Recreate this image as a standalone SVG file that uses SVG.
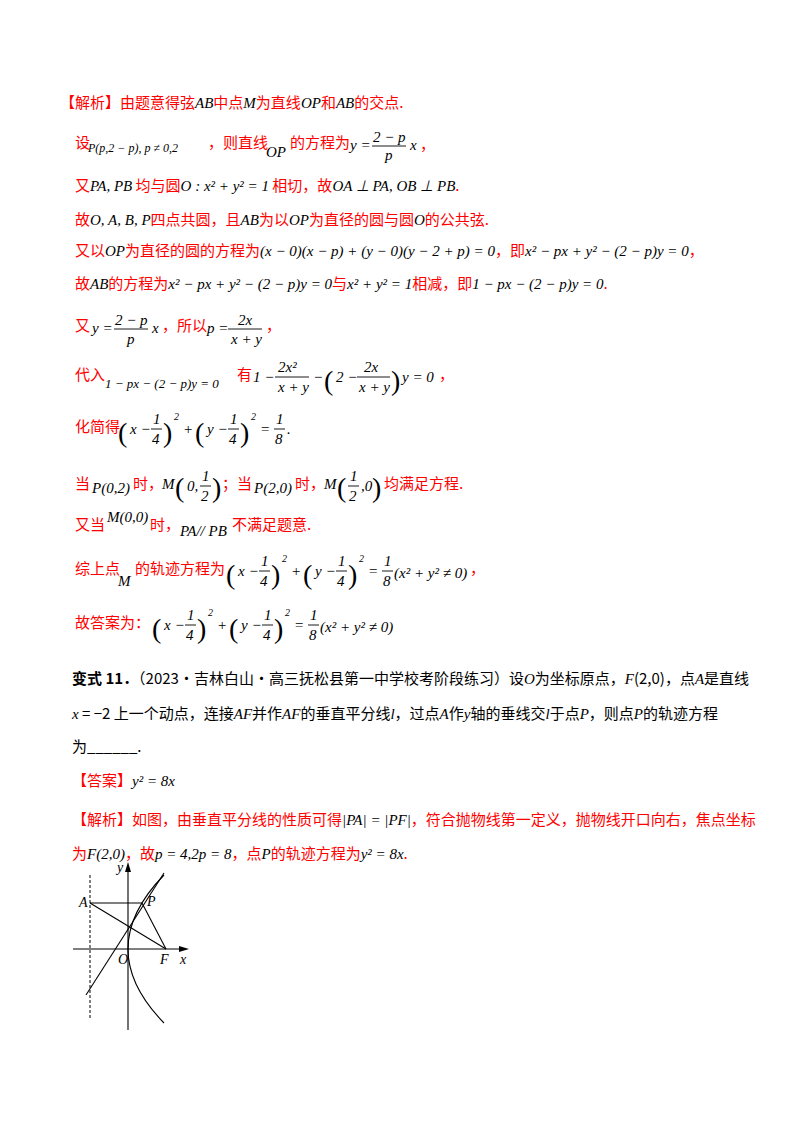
<svg xmlns="http://www.w3.org/2000/svg" width="800" height="1132" viewBox="0 0 800 1132">
<style>
.r{font-family:"Noto Sans CJK SC","Liberation Serif",serif;font-size:15px;fill:#f00}
.k{font-family:"Noto Sans CJK SC","Liberation Serif",serif;font-size:15px;fill:#000}
.b{font-weight:bold}
.m{font-family:"Liberation Serif",serif;font-size:15px;font-style:italic;fill:#000}
.s{font-size:10px}
.big{font-family:"Liberation Serif",serif;font-size:28px;fill:#000}
.fl{stroke:#000;stroke-width:0.9}
.g{stroke:#000;stroke-width:1.1;fill:none}
.lab{font-family:"Liberation Serif",serif;font-size:14px;font-style:italic;fill:#000}
</style>
<rect width="800" height="1132" fill="#fff"/>
<g id="solution1">
<text x="60" y="108" class="r">【解析】由题意得弦<tspan class="m">AB</tspan>中点<tspan class="m">M</tspan>为直线<tspan class="m">OP</tspan>和<tspan class="m">AB</tspan>的交点.</text>
<text x="75" y="148" class="r">设</text>
<text x="88" y="152" class="m" style="font-size:12px">P(p,2 − p), p ≠ 0,2</text>
<text x="208" y="148" class="r">，则直线</text>
<text x="266" y="157" class="m">OP</text>
<text x="290" y="148" class="r">的方程为</text>
<text x="350" y="150" class="m">y =</text>
<text x="373" y="142" class="m">2 − p</text><line x1="372" y1="146" x2="406" y2="146" class="fl"/><text x="385" y="160" class="m">p</text>
<text x="410" y="150" class="m">x</text><text x="420" y="150" class="r">，</text>
<text x="75" y="191" class="r">又<tspan class="m">PA, PB</tspan> 均与圆<tspan class="m">O : x² + y² = 1</tspan> 相切，故<tspan class="m">OA ⊥ PA, OB ⊥ PB</tspan>.</text>
<text x="75" y="225" class="r">故<tspan class="m">O, A, B, P</tspan>四点共圆，且<tspan class="m">AB</tspan>为以<tspan class="m">OP</tspan>为直径的圆与圆<tspan class="m">O</tspan>的公共弦.</text>
<text x="75" y="256" class="r">又以<tspan class="m">OP</tspan>为直径的圆的方程为<tspan class="m">(x − 0)(x − p) + (y − 0)(y − 2 + p) = 0</tspan>，即<tspan class="m">x² − px + y² − (2 − p)y = 0</tspan>，</text>
<text x="75" y="289" class="r">故<tspan class="m">AB</tspan>的方程为<tspan class="m">x² − px + y² − (2 − p)y = 0</tspan>与<tspan class="m">x² + y² = 1</tspan>相减，即<tspan class="m">1 − px − (2 − p)y = 0</tspan>.</text>
<text x="75" y="331" class="r">又</text>
<text x="92" y="333" class="m">y =</text><text x="115" y="325" class="m">2 − p</text><line x1="114" y1="329" x2="148" y2="329" class="fl"/><text x="127" y="344" class="m">p</text><text x="152" y="333" class="m">x</text>
<text x="162" y="331" class="r">，所以</text>
<text x="207" y="333" class="m">p =</text><text x="238" y="325" class="m">2x</text><line x1="228" y1="329" x2="262" y2="329" class="fl"/><text x="231" y="344" class="m">x + y</text>
<text x="266" y="331" class="r">，</text>
<text x="75" y="380" class="r">代入</text>
<text x="105" y="388" class="m" style="font-size:13px">1 − px − (2 − p)y = 0</text>
<text x="237" y="380" class="r">有</text>
<text x="253" y="382" class="m">1 −</text><text x="278" y="372" class="m">2x²</text><line x1="275" y1="377" x2="309" y2="377" class="fl"/><text x="278" y="392" class="m">x + y</text>
<text x="313" y="382" class="m">−</text><text x="324" y="390" class="big">(</text><text x="336" y="382" class="m">2 −</text><text x="364" y="372" class="m">2x</text><line x1="357" y1="377" x2="390" y2="377" class="fl"/><text x="359" y="392" class="m">x + y</text><text x="391" y="390" class="big">)</text><text x="402" y="382" class="m">y = 0</text><text x="439" y="380" class="r">，</text>
<text x="75" y="432" class="r">化简得</text>
<text x="118" y="442" class="big">(</text><text x="130" y="434" class="m">x −</text><text x="153" y="424" class="m">1</text><line x1="151" y1="429" x2="162" y2="429" class="fl"/><text x="152" y="444" class="m">4</text><text x="163" y="442" class="big">)</text><text x="174" y="420" class="m s">2</text>
<text x="183" y="434" class="m">+</text><text x="195" y="442" class="big">(</text><text x="207" y="434" class="m">y −</text><text x="230" y="424" class="m">1</text><line x1="228" y1="429" x2="239" y2="429" class="fl"/><text x="229" y="444" class="m">4</text><text x="240" y="442" class="big">)</text><text x="251" y="420" class="m s">2</text>
<text x="260" y="434" class="m">=</text><text x="276" y="424" class="m">1</text><line x1="274" y1="429" x2="285" y2="429" class="fl"/><text x="275" y="444" class="m">8</text><text x="287" y="434" class="m">.</text>
<text x="75" y="489" class="r">当</text><text x="92" y="493" class="m">P(0,2)</text><text x="133" y="489" class="r">时，</text>
<text x="162" y="489" class="m">M</text><text x="175" y="497" class="big">(</text><text x="187" y="491" class="m">0,</text><text x="202" y="481" class="m">1</text><line x1="200" y1="486" x2="211" y2="486" class="fl"/><text x="201" y="501" class="m">2</text><text x="212" y="497" class="big">)</text>
<text x="222" y="489" class="r">；当</text><text x="254" y="493" class="m">P(2,0)</text><text x="295" y="489" class="r">时，</text>
<text x="324" y="489" class="m">M</text><text x="337" y="497" class="big">(</text><text x="350" y="481" class="m">1</text><line x1="348" y1="486" x2="359" y2="486" class="fl"/><text x="349" y="501" class="m">2</text><text x="361" y="491" class="m">,0</text><text x="372" y="497" class="big">)</text><text x="384" y="489" class="r">均满足方程.</text>
<text x="75" y="530" class="r">又当</text><text x="107" y="522" class="m">M(0,0)</text><text x="150" y="530" class="r">时，</text><text x="180" y="536" class="m">PA// PB</text><text x="232" y="530" class="r">不满足题意.</text>
<text x="75" y="574" class="r">综上点</text><text x="118" y="586" class="m">M</text><text x="135" y="574" class="r">的轨迹方程为</text>
<text x="226" y="584" class="big">(</text><text x="238" y="576" class="m">x −</text><text x="261" y="566" class="m">1</text><line x1="259" y1="571" x2="270" y2="571" class="fl"/><text x="260" y="586" class="m">4</text><text x="271" y="584" class="big">)</text><text x="282" y="562" class="m s">2</text>
<text x="291" y="576" class="m">+</text><text x="303" y="584" class="big">(</text><text x="315" y="576" class="m">y −</text><text x="338" y="566" class="m">1</text><line x1="336" y1="571" x2="347" y2="571" class="fl"/><text x="337" y="586" class="m">4</text><text x="348" y="584" class="big">)</text><text x="359" y="562" class="m s">2</text>
<text x="368" y="576" class="m">=</text><text x="384" y="566" class="m">1</text><line x1="382" y1="571" x2="393" y2="571" class="fl"/><text x="383" y="586" class="m">8</text><text x="394" y="578" class="m">(x² + y² ≠ 0)</text><text x="470" y="574" class="r">，</text>
<text x="75" y="628" class="r">故答案为：</text>
<text x="152" y="638" class="big">(</text><text x="164" y="630" class="m">x −</text><text x="187" y="620" class="m">1</text><line x1="185" y1="625" x2="196" y2="625" class="fl"/><text x="186" y="640" class="m">4</text><text x="197" y="638" class="big">)</text><text x="208" y="616" class="m s">2</text>
<text x="217" y="630" class="m">+</text><text x="229" y="638" class="big">(</text><text x="241" y="630" class="m">y −</text><text x="264" y="620" class="m">1</text><line x1="262" y1="625" x2="273" y2="625" class="fl"/><text x="263" y="640" class="m">4</text><text x="274" y="638" class="big">)</text><text x="285" y="616" class="m s">2</text>
<text x="294" y="630" class="m">=</text><text x="310" y="620" class="m">1</text><line x1="308" y1="625" x2="319" y2="625" class="fl"/><text x="309" y="640" class="m">8</text><text x="320" y="632" class="m">(x² + y² ≠ 0)</text>
</g>
<g id="problem">
<text x="72" y="684" class="k"><tspan class="b">变式 11．</tspan>（2023·吉林白山·高三抚松县第一中学校考阶段练习）设<tspan class="m">O</tspan>为坐标原点，<tspan class="m">F</tspan>(2,0)，点<tspan class="m">A</tspan>是直线</text>
<text x="72" y="719" class="k"><tspan class="m">x</tspan> = −2 上一个动点，连接<tspan class="m">AF</tspan>并作<tspan class="m">AF</tspan>的垂直平分线<tspan class="m">l</tspan>，过点<tspan class="m">A</tspan>作<tspan class="m">y</tspan>轴的垂线交<tspan class="m">l</tspan>于点<tspan class="m">P</tspan>，则点<tspan class="m">P</tspan>的轨迹方程</text>
<text x="72" y="752" class="k">为<tspan>______</tspan>.</text>
<text x="72" y="786" class="r">【答案】<tspan class="m">y² = 8x</tspan></text>
<text x="72" y="825" class="r">【解析】如图，由垂直平分线的性质可得<tspan class="m">|PA| = |PF|</tspan>，符合抛物线第一定义，抛物线开口向右，焦点坐标</text>
<text x="72" y="859" class="r">为<tspan class="m">F</tspan><tspan class="m" font-style="normal">(2,0)</tspan>，故<tspan class="m">p</tspan><tspan class="m" font-style="normal"> = 4,2</tspan><tspan class="m">p</tspan><tspan class="m" font-style="normal"> = 8</tspan>，点<tspan class="m">P</tspan>的轨迹方程为<tspan class="m">y² = 8x</tspan>.</text>
</g>
<g id="figure">
<line x1="128" y1="1030" x2="128" y2="868" class="g"/>
<path d="M125,872 L128,862 L131,872 Z" fill="#000"/>
<line x1="73" y1="949" x2="183" y2="949" class="g"/>
<path d="M179,946 L189,949 L179,952 Z" fill="#000"/>
<line x1="90" y1="875" x2="90" y2="1020" stroke="#000" stroke-width="1" stroke-dasharray="3,2"/>
<path d="M164,875 Q92,949 164,1023" class="g"/>
<line x1="86" y1="995" x2="164" y2="873" class="g"/>
<line x1="90" y1="903" x2="142" y2="903" class="g"/>
<line x1="90" y1="903" x2="166" y2="949" class="g"/>
<line x1="142" y1="903" x2="166" y2="949" class="g"/>
<text x="117" y="872" class="lab">y</text>
<text x="79" y="907" class="lab">A</text>
<text x="147" y="906" class="lab">P</text>
<text x="118" y="964" class="lab">O</text>
<text x="160" y="964" class="lab">F</text>
<text x="180" y="964" class="lab">x</text>
</g>
</svg>
